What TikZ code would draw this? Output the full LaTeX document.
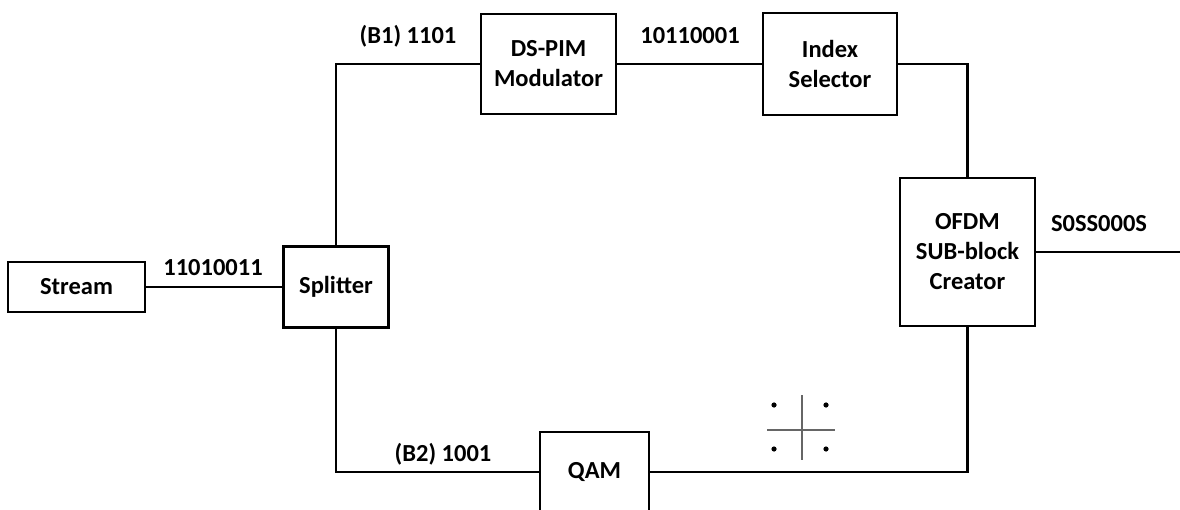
\documentclass[tikz,border=0pt]{standalone}
\usepackage{fontspec}
\setmainfont{Carlito}
\begin{document}
\begin{tikzpicture}[x=1pt,y=-1pt,
  blk/.style={draw,line width=2.8pt,inner sep=0pt,align=center,font=\fontsize{24.5}{30}\selectfont\bfseries,fill=white},
  lbl/.style={inner sep=0pt,font=\fontsize{24.5}{30}\selectfont\bfseries},
  wire/.style={line width=2.8pt},
  const/.style={line width=2.2pt,draw=black!60}]
\useasboundingbox (0,0) rectangle (1180,510);
\node[blk,minimum width=137pt,minimum height=50pt] (stream) at (76.5,287) {Stream};
\node[blk,minimum width=105pt,minimum height=81pt] (split) at (336,287) {Splitter};
\node[blk,minimum width=135pt,minimum height=100pt] (ds) at (548.5,64) {DS-PIM\\Modulator};
\node[blk,minimum width=134pt,minimum height=102pt] (idx) at (830,64) {Index\\Selector};
\node[blk,minimum width=135pt,minimum height=148pt] (ofdm) at (967.5,252) {OFDM\\SUB-block\\Creator};
\node[blk,minimum width=109pt,minimum height=80pt] (qam) at (594.5,472) {QAM};
\coordinate (out) at (1180,252);
\draw[wire] (stream.east) -- (split.west);
\draw[wire] (split.north) |- (ds.west);
\draw[wire] (ds.east) -- (idx.west);
\draw[wire] (idx.east) -| (ofdm.north);
\draw[wire] (split.south) |- (qam.west);
\draw[wire] (qam.east) -| (ofdm.south);
\draw[wire] (ofdm.east) -- (out);
\node[lbl] (l1) at (213,268) {11010011};
\node[lbl] (l2) at (408,36) {(B1) 1101};
\node[lbl] (l3) at (690,36) {10110001};
\node[lbl] (l4) at (1099,224) {S0SS000S};
\node[lbl] (l5) at (443,454) {(B2) 1001};
% constellation
\coordinate (c) at (802,430);
\draw[const] (767,430) -- (835,430);
\draw[const] (802,395) -- (802,460);
\foreach \p in {(774,405),(826,405),(774,449),(826,449)}
  \fill \p circle (2.6pt);
\end{tikzpicture}
\end{document}
